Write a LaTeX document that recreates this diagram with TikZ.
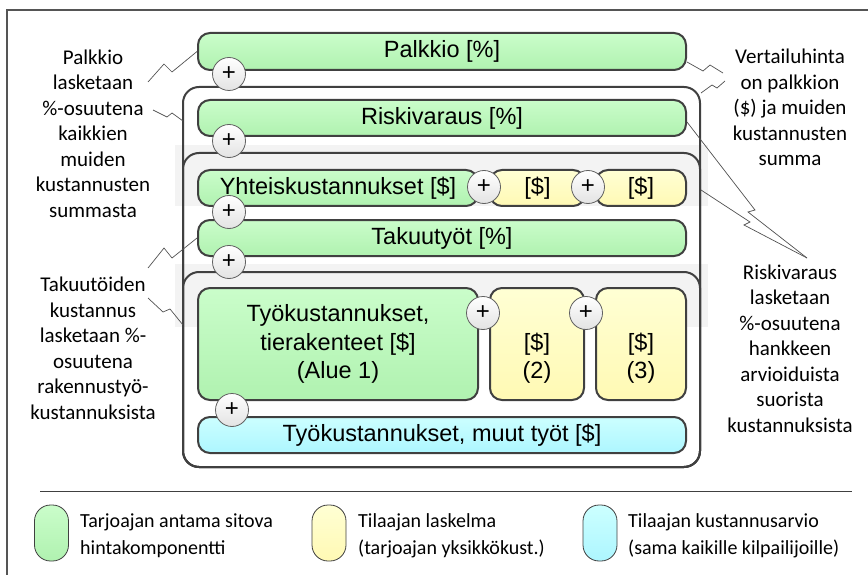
\documentclass[tikz,border=0pt]{standalone}
\usepackage{fontspec}
\setmainfont{Liberation Sans}
\newfontfamily\calib{Carlito}
\usetikzlibrary{calc}
\definecolor{bord}{HTML}{404040}
\definecolor{gtop}{HTML}{CAFDCA}
\definecolor{gbot}{HTML}{B0F2B0}
\definecolor{ytop}{HTML}{FFFFD4}
\definecolor{ybot}{HTML}{FFF9B4}
\definecolor{ctop}{HTML}{CCFFFF}
\definecolor{cbot}{HTML}{ADF6FF}
\definecolor{band}{HTML}{F3F3F3}
\definecolor{callc}{HTML}{505050}
\definecolor{framec}{HTML}{555555}
\begin{document}
\begin{tikzpicture}[x=1pt,y=-1pt,
 box/.style={draw=bord, line width=2pt, rounded corners=12pt, inner sep=0pt, align=center, font=\fontsize{23.5}{28.5}\selectfont},
 gbox/.style={box, top color=gtop, bottom color=gbot},
 ybox/.style={box, top color=ytop, bottom color=ybot},
 cbox/.style={box, top color=ctop, bottom color=cbot},
 boxtext/.style={inner sep=0pt, align=center, font=\fontsize{23.5}{28.5}\selectfont},
 cont/.style={draw=bord, line width=2pt, rounded corners=16pt, inner sep=0pt},
 plus/.style={circle, draw=gray!75!black, line width=0.8pt, top color=white, bottom color=gray!22, minimum size=33pt, inner sep=0pt, font=\fontsize{24}{24}\selectfont},
 note/.style={font=\calib\fontsize{21}{25.5}\selectfont, align=center, inner sep=0pt},
 leg/.style={font=\calib\fontsize{20}{27}\selectfont, align=left, inner sep=0pt, anchor=west},
 pill/.style={draw=bord, line width=0.8pt, rounded corners=16pt, minimum width=34pt, minimum height=56pt, inner sep=0pt},
 callout/.style={draw=callc, line width=0.7pt},
]
\useasboundingbox (0,0) rectangle (868,575);
% frame
\coordinate (f1) at (7,575);
\coordinate (f2) at (7,10);
\coordinate (f3) at (868,10);
\draw[framec, line width=1.5pt] (f1) -- (f2) -- (f3);

% grey bands
\fill[band] (175,145) rectangle (708,206);
\fill[band] (175,264) rectangle (708,327);

% containers
\node[cont, minimum width=517pt, minimum height=380pt] (contA) at (441.5,277) {};
\node[cont, minimum width=517pt, minimum height=314pt] (contB) at (441.5,310) {};
\node[cont, minimum width=517pt, minimum height=195pt] (contC) at (441.5,369.5) {};

% boxes
\node[gbox, minimum width=488pt, minimum height=37pt] (palk) at (442,51.5) {Palkkio [\%]};
\node[gbox, minimum width=280pt, minimum height=36pt] (yht) at (338,188) {Yhteiskustannukset [\$]};
\node[gbox, minimum width=488pt, minimum height=36pt] (risk) at (442,118) {Riskivaraus [\%]};
\node[ybox, minimum width=95pt, minimum height=36pt] (y1) at (537.5,188) {[\$]};
\node[ybox, minimum width=90pt, minimum height=36pt] (y2) at (641,188) {[\$]};
\node[gbox, minimum width=488pt, minimum height=36pt] (taku) at (442,238) {Takuutyöt [\%]};
\node[gbox, minimum width=280pt, minimum height=112pt] (tyo) at (338,344) {Työkustannukset,\\tierakenteet [\$]\\(Alue 1)};
\node[ybox, minimum width=94pt, minimum height=112pt] (a2) at (537,344) {};
\node[boxtext] (a2t) at (537,358) {[\$]\\(2)};
\node[ybox, minimum width=90pt, minimum height=112pt] (a3) at (641,344) {};
\node[boxtext] (a3t) at (641,358) {[\$]\\(3)};
\node[cbox, minimum width=488pt, minimum height=36pt] (muut) at (442,435) {Työkustannukset, muut työt [\$]};

% plus circles
\node[plus] (p1) at (229,74) {+};
\node[plus] (p2) at (229,141) {+};
\node[plus] (p3) at (484,187) {+};
\node[plus] (p4) at (588,187) {+};
\node[plus] (p5) at (229,212) {+};
\node[plus] (p6) at (229,262) {+};
\node[plus] (p7) at (483,313) {+};
\node[plus] (p8) at (586,313) {+};
\node[plus] (p9) at (232,410) {+};

% annotations
\node[note] (nl1) at (93,133.5) {Palkkio\\lasketaan\\\%-osuutena\\kaikkien\\muiden\\kustannusten\\summasta};
\node[note] (nl2) at (93,348.5) {Takuutöiden\\kustannus\\lasketaan \%-\\osuutena\\rakennustyö-\\kustannuksista};
\node[note] (nr1) at (790,107.5) {Vertailuhinta\\on palkkion\\(\$) ja muiden\\kustannusten\\summa};
\node[note] (nr2) at (790,348.5) {Riskivaraus\\lasketaan\\\%-osuutena\\hankkeen\\arvioiduista\\suorista\\kustannuksista};

% callouts
\coordinate (c1) at (148,82);
\draw[callout] (c1) -- (164,64) -- (172,72) -- (palk.west);
\coordinate (c2) at (153,110);
\coordinate (c2e) at (183,121);
\draw[callout] (c2) -- (167,117) -- (172,113) -- (c2e);
\coordinate (c3) at (148,268);
\draw[callout] (c3) -- (164,248) -- (172,258) -- (taku.west);
\coordinate (c4) at (148,298);
\coordinate (c4e) at (183,325);
\draw[callout] (c4) -- (163,312) -- (170,309) -- (c4e);
\coordinate (c5s) at (687,62);
\coordinate (c5) at (723,73);
\draw[callout] (c5s) -- (703,71) -- (710,65) -- (c5);
\coordinate (c6s) at (701,93);
\coordinate (c6) at (725,81);
\draw[callout] (c6s) -- (712,85) -- (717,88) -- (c6);
\coordinate (c7s) at (687,122);
\coordinate (c7) at (807,258);
\draw[callout] (c7s) -- (755,210) -- (748,212) -- (c7);
\coordinate (c8s) at (701,190);
\draw[callout] (c8s) -- (750,222) -- (744,225) -- (c7);

% legend
\coordinate (s1) at (40,491);
\coordinate (s2) at (852,491);
\draw[bord, line width=1pt] (s1) -- (s2);
\node[pill, top color=gtop, bottom color=gbot] (lg1) at (51.5,533) {};
\node[leg] (lt1) at (80,535.5) {Tarjoajan antama sitova\\hintakomponentti};
\node[pill, top color=ytop, bottom color=ybot] (lg2) at (329,533) {};
\node[leg] (lt2) at (358,535.5) {Tilaajan laskelma\\(tarjoajan yksikkökust.)};
\node[pill, top color=ctop, bottom color=cbot] (lg3) at (600,533) {};
\node[leg] (lt3) at (628,535.5) {Tilaajan kustannusarvio\\(sama kaikille kilpailijoille)};
\end{tikzpicture}
\end{document}
